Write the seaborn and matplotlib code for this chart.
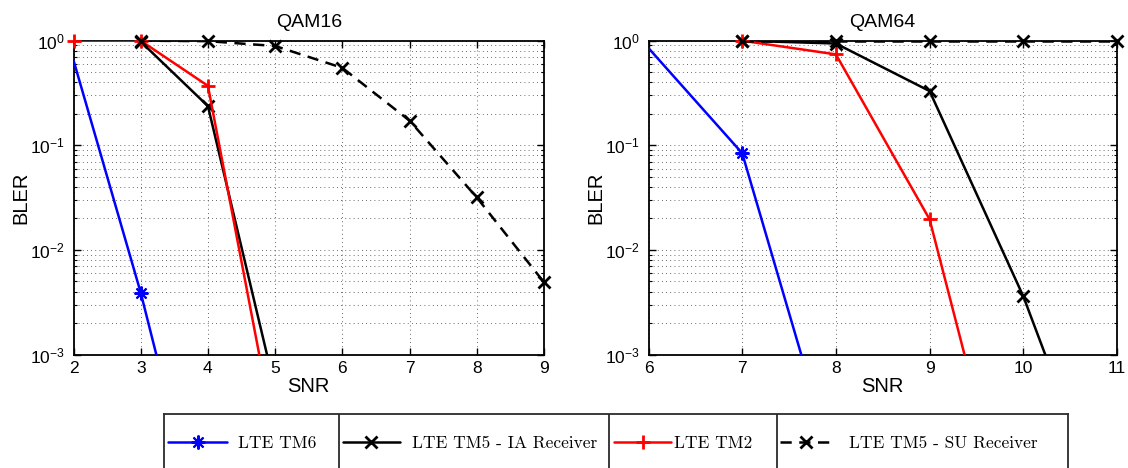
import numpy as np
import matplotlib
matplotlib.use("Agg")
import matplotlib.pyplot as plt
from matplotlib.lines import Line2D
from matplotlib.font_manager import FontProperties
from matplotlib.ticker import LogLocator, NullFormatter
import seaborn as sns

# ---------------- data ----------------
series_labels = ["LTE TM6", "LTE TM5 - IA Receiver", "LTE TM2", "LTE TM5 - SU Receiver"]

# QAM16 panel
snr16_tm6 = [2, 3, 4]
bler16_tm6 = [0.65, 0.0039, 1.1e-5]
snr16_ia = [3, 4, 5]
bler16_ia = [0.98, 0.237, 4.7e-4]
snr16_tm2 = [2, 3, 4, 5]
bler16_tm2 = [1.0, 1.0, 0.37, 1.6e-4]
snr16_su = [3, 4, 5, 6, 7, 8, 9]
bler16_su = [1.0, 0.99, 0.89, 0.55, 0.172, 0.0317, 0.0049]

# QAM64 panel
snr64_tm6 = [6, 7, 8]
bler64_tm6 = [0.85, 0.084, 7.4e-5]
snr64_ia = [7, 8, 9, 10, 11]
bler64_ia = [1.0, 0.94, 0.33, 0.0036, 1.5e-5]
snr64_tm2 = [7, 8, 9, 10]
bler64_tm2 = [1.0, 0.74, 0.0196, 6.6e-6]
snr64_su = [7, 8, 9, 10, 11]
bler64_su = [1.0, 1.0, 1.0, 1.0, 1.0]

snr16_ticks = [2, 3, 4, 5, 6, 7, 8, 9]
snr64_ticks = [6, 7, 8, 9, 10, 11]
BLER_MIN, BLER_MAX = 1e-3, 1.0

# ---------------- styles ----------------
sns.set_style("white")
plt.rcParams["font.family"] = ["Liberation Sans", "DejaVu Sans"]
plt.rcParams["mathtext.fontset"] = "custom"
plt.rcParams["mathtext.rm"] = "Liberation Sans"
plt.rcParams["mathtext.it"] = "Liberation Sans:italic"
for key in ("text.color", "axes.labelcolor", "xtick.color", "ytick.color",
            "axes.titlecolor"):
    plt.rcParams[key] = "black"

BLUE, RED, BLACK = "#0000ff", "#ff0000", "#000000"
DASH = (0, (4.5, 3))
styles = [
    dict(color=BLUE, ls="-", marker=(8, 2, 0), ms=10, mew=1.5),
    dict(color=BLACK, ls="-", marker="x", ms=9, mew=2.0),
    dict(color=RED, ls="-", marker="+", ms=10, mew=2.0),
    dict(color=BLACK, ls=DASH, marker="x", ms=9, mew=2.0),
]
LW = 1.8

W, H = 1128, 468
fig = plt.figure(figsize=(W / 100, H / 100), dpi=100)


def px_axes(x0, x1, ytop, ybot):
    return fig.add_axes([x0 / W, 1 - ybot / H, (x1 - x0) / W, (ybot - ytop) / H])


ax16 = px_axes(73.5, 544.0, 40.7, 354.5)
ax64 = px_axes(648.5, 1117.0, 40.7, 354.5)


def draw_series(ax, x, y, st, skip_first_marker=False):
    ax.set_yscale("log")
    sns.lineplot(x=x, y=y, ax=ax, color=st["color"], linewidth=LW,
                 linestyle=st["ls"], errorbar=None, estimator=None,
                 sort=False, legend=False, zorder=3)
    # markers at in-range points, drawn unclipped so edge markers stay whole
    idx = [i for i, v in enumerate(y) if BLER_MIN <= v <= BLER_MAX]
    if skip_first_marker:
        idx = [i for i in idx if i != 0]
    sns.lineplot(x=x, y=y, ax=ax, color=st["color"], linestyle="none",
                 marker=st["marker"], markersize=st["ms"],
                 markeredgewidth=st["mew"], markeredgecolor=st["color"],
                 markerfacecolor=st["color"], markevery=idx,
                 errorbar=None, estimator=None, sort=False, legend=False,
                 clip_on=False, zorder=3)


panel16 = [(snr16_tm6, bler16_tm6), (snr16_ia, bler16_ia),
           (snr16_tm2, bler16_tm2), (snr16_su, bler16_su)]
panel64 = [(snr64_tm6, bler64_tm6), (snr64_ia, bler64_ia),
           (snr64_tm2, bler64_tm2), (snr64_su, bler64_su)]

for ax, panel in ((ax16, panel16), (ax64, panel64)):
    for k, ((x, y), st) in enumerate(zip(panel, styles)):
        draw_series(ax, x, y, st, skip_first_marker=(k == 0))

GRID = dict(linestyle=(0, (1, 4)), linewidth=0.6, color="#3a3a3a")


def style_axes(ax, ticks, title):
    ax.set_yscale("log")
    ax.set_xlim(ticks[0], ticks[-1])
    ax.set_ylim(BLER_MIN, BLER_MAX)
    ax.set_xticks(ticks)
    ax.set_xticklabels([str(t) for t in ticks])
    ax.yaxis.set_major_locator(LogLocator(base=10, numticks=10))
    ax.yaxis.set_minor_locator(LogLocator(base=10, subs=np.arange(2, 10), numticks=40))
    ax.yaxis.set_minor_formatter(NullFormatter())
    ax.set_axisbelow(True)
    ax.grid(True, which="major", axis="both", **GRID)
    ax.grid(True, which="minor", axis="y", **GRID)
    ax.tick_params(which="both", direction="in", top=True, right=True,
                   bottom=True, left=True, color="black")
    ax.tick_params(which="major", length=5, width=1.0, labelsize=12.5)
    ax.tick_params(axis="x", which="major", pad=5)
    ax.tick_params(axis="y", which="major", pad=6)
    ax.tick_params(which="minor", length=2.5, width=0.8)
    for sp in ax.spines.values():
        sp.set_visible(True)
        sp.set_linewidth(1.3)
        sp.set_color("black")
    ax.set_title(title, fontsize=14, pad=10)
    ax.set_xlabel("SNR", fontsize=14.5)
    ax.set_ylabel("BLER", fontsize=14.5)
    ax.xaxis.set_label_coords(0.5, -0.072)


style_axes(ax16, snr16_ticks, "QAM16")
style_axes(ax64, snr64_ticks, "QAM64")
ax16.yaxis.set_label_coords(-0.091, 0.5)
ax64.yaxis.set_label_coords(-0.0914, 0.5)

# ---------------- boxed horizontal legend ----------------
box_l, box_r, box_t, box_b = 164.3, 1067.7, 414.0, 472.0
axl = px_axes(box_l, box_r, box_t, box_b)
axl.set_xlim(box_l, box_r)
axl.set_ylim(0, 1)
axl.set_xticks([])
axl.set_yticks([])
axl.set_facecolor("white")
for sp in axl.spines.values():
    sp.set_visible(True)
    sp.set_linewidth(1.3)
    sp.set_color("#2b2b2b")
for xd in (338.7, 609.3, 776.7):
    axl.axvline(xd, color="#2b2b2b", lw=1.3)

leg_font = FontProperties(family=["cmr10", "DejaVu Serif"], size=12.5)
cells = [(168.0, 3.4, 0.65), (342.5, 3.3, 0.72), (614.0, 3.3, 0.18), (780.0, 3.0, 1.0)]
for label, st, (x0, hl, tp) in zip(series_labels, styles, cells):
    proxy = Line2D([], [], color=st["color"], lw=LW, linestyle=st["ls"],
                   marker=st["marker"], markersize=st["ms"],
                   markeredgewidth=st["mew"], markeredgecolor=st["color"])
    fig.legend(handles=[proxy], labels=[label], loc="center left",
               bbox_to_anchor=(x0 / W, 1 - 443 / H), frameon=False,
               borderpad=0, borderaxespad=0, handlelength=hl,
               handletextpad=tp, prop=leg_font, numpoints=1)

fig.savefig("out.png", dpi=100)
